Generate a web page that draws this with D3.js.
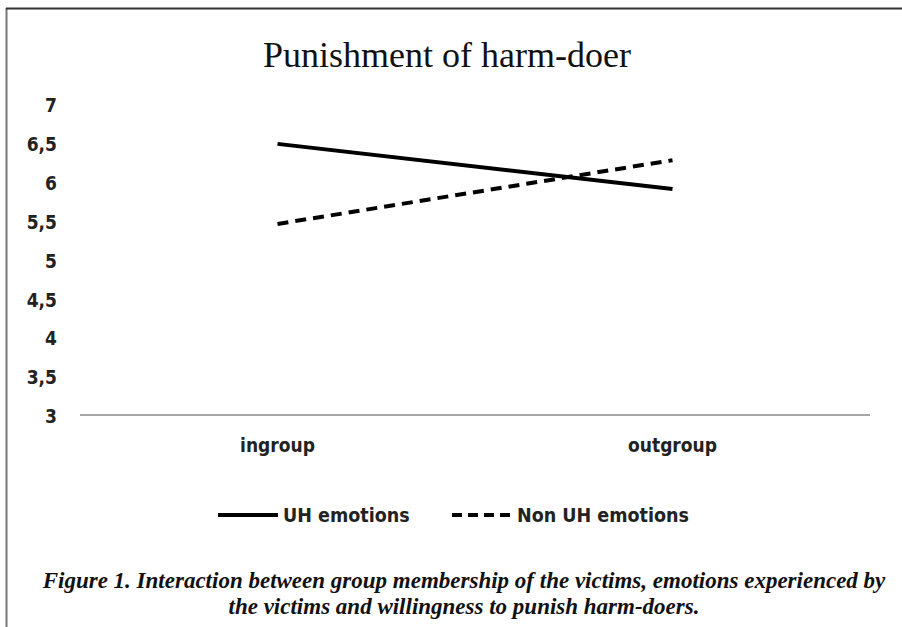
<!DOCTYPE html>
<html>
<head>
<meta charset="utf-8">
<script src="https://cdn.jsdelivr.net/npm/d3@7"></script>
<style>
  html, body { margin: 0; padding: 0; background: #fff; }
  svg { display: block; }
</style>
</head>
<body>
<svg id="chart" width="902" height="627"></svg>
<script>
const categories = ["ingroup", "outgroup"];
const seriesNames = ["UH emotions", "Non UH emotions"];
const uhValues = [6.5, 5.92];
const nonUhValues = [5.47, 6.29];
const yTicks = [3, 3.5, 4, 4.5, 5, 5.5, 6, 6.5, 7];
const titleText = "Punishment of harm-doer";
const captionLines = [
  "Figure 1. Interaction between group membership of the victims, emotions experienced by",
  "the victims and willingness to punish harm-doers."
];

const svg = d3.select("#chart");
const W = 902, H = 627;
const plot = { left: 80, right: 870, top: 105, bottom: 416 };

const labelFont = "'Liberation Sans Narrow', 'DejaVu Sans Condensed', sans-serif";

// frame lines
svg.append("line").attr("x1", 6.5).attr("x2", 6.5).attr("y1", 8).attr("y2", H)
  .attr("stroke", "#777").attr("stroke-width", 2);
svg.append("line").attr("x1", 6).attr("x2", W).attr("y1", 8.5).attr("y2", 8.5)
  .attr("stroke", "#333").attr("stroke-width", 2);

const x = d3.scaleBand().domain(categories).range([plot.left, plot.right]);
const y = d3.scaleLinear().domain([3, 7]).range([plot.bottom, plot.top]);

// title
svg.append("text").attr("x", 447).attr("y", 67).attr("text-anchor", "middle")
  .attr("font-family", "'Liberation Serif', 'DejaVu Serif', serif")
  .attr("font-size", 36).attr("fill", "#111").text(titleText);

// y axis (labels only)
const yAxis = d3.axisLeft(y).tickValues(yTicks).tickSize(0).tickPadding(0)
  .tickFormat(d => String(d).replace(".", ","));
const gy = svg.append("g").attr("transform", "translate(57,0)").call(yAxis);
gy.select(".domain").remove();
gy.selectAll("text").attr("font-family", labelFont).attr("font-weight", "bold")
  .attr("font-size", 19).attr("fill", "#222").attr("dy", "0.35em");

// x axis baseline
const xAxis = d3.axisBottom(x).tickSize(0).tickPadding(24);
const gx = svg.append("g").attr("transform", `translate(0,${plot.bottom - 1})`).call(xAxis);
gx.select(".domain").attr("stroke", "#a6a6a6").attr("stroke-width", 2)
  .attr("d", `M${plot.left},0H${plot.right}`);
gx.selectAll("text").attr("font-family", labelFont).attr("font-weight", "bold")
  .attr("font-size", 19).attr("fill", "#222");

const line = d3.line().x((d, i) => x(categories[i]) + x.bandwidth() / 2).y(d => y(d));

svg.append("path").datum(uhValues).attr("d", line).attr("fill", "none")
  .attr("stroke", "#000").attr("stroke-width", 4);
svg.append("path").datum(nonUhValues).attr("d", line).attr("fill", "none")
  .attr("stroke", "#000").attr("stroke-width", 4).attr("stroke-dasharray", "11,7");

// legend
const legend = [
  { name: seriesNames[0], x: 218, dash: null },
  { name: seriesNames[1], x: 452, dash: "10,6" }
];
const ly = 515;
legend.forEach(l => {
  svg.append("line").attr("x1", l.x).attr("x2", l.x + 60).attr("y1", ly).attr("y2", ly)
    .attr("stroke", "#000").attr("stroke-width", 4).attr("stroke-dasharray", l.dash);
  svg.append("text").attr("x", l.x + 65).attr("y", ly).attr("dy", "0.35em")
    .attr("font-family", labelFont).attr("font-weight", "bold").attr("font-size", 19.5)
    .attr("fill", "#222").text(l.name);
});

// caption
captionLines.forEach((t, i) => {
  svg.append("text").attr("x", 464).attr("y", 588 + i * 26).attr("text-anchor", "middle")
    .attr("font-family", "'Liberation Serif', 'DejaVu Serif', serif")
    .attr("font-weight", "bold").attr("font-style", "italic").attr("font-size", 23)
    .attr("fill", "#111").text(t);
});
</script>
</body>
</html>
